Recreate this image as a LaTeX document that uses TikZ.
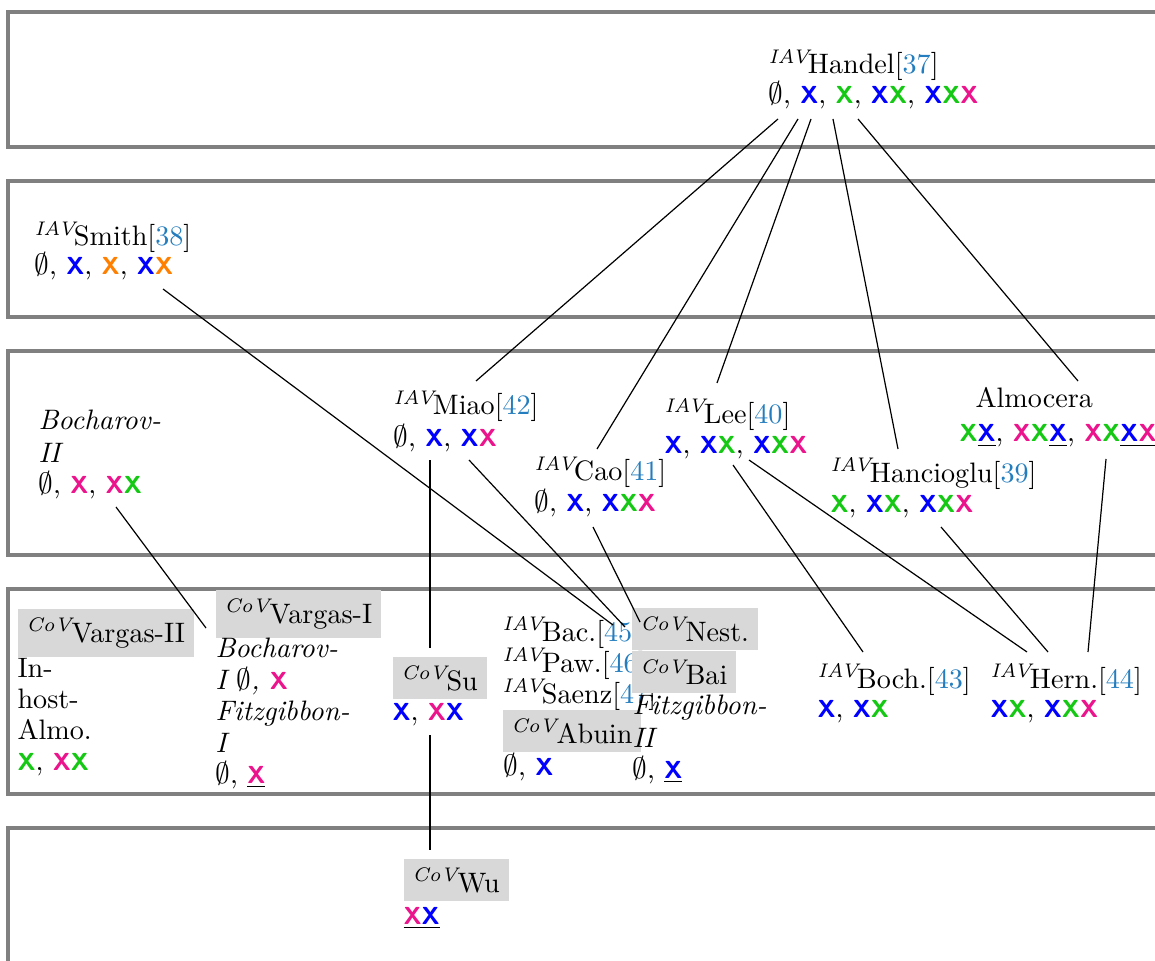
\documentclass[tikz,border=0pt]{standalone}
\usepackage{fontspec}
\usetikzlibrary{calc}

\definecolor{xblue}{RGB}{0,0,255}
\definecolor{xgreen}{RGB}{20,200,20}
\definecolor{xpink}{RGB}{235,20,140}
\definecolor{xorange}{RGB}{255,128,0}
\definecolor{citeblue}{RGB}{35,125,190}
\definecolor{tierline}{RGB}{128,128,128}
\definecolor{boxfill}{RGB}{216,216,216}

% coloured segment marks
\newcommand\mk[1]{{\fontsize{9.2}{10}\selectfont\sffamily\bfseries\upshape\textcolor{#1}{X}}}
\newcommand\xB{\mk{xblue}}
\newcommand\xG{\mk{xgreen}}
\newcommand\xP{\mk{xpink}}
\newcommand\xO{\mk{xorange}}
\newcommand\es{$\emptyset$}
\newcommand\iav{\textsuperscript{\itshape IAV}\kern-1pt}
\newcommand\cov{\textsuperscript{\itshape CoV}\kern-0.6pt}
\newcommand\cit[1]{[\textcolor{citeblue}{#1}]}

\tikzset{
  every node/.style={font=\fontsize{10.5}{12.5}\selectfont},
  tier/.style={draw=tierline, line width=1.2pt},
  lbl/.style={anchor=base west, inner sep=0pt},
  covbox/.style={anchor=base west, fill=boxfill, inner sep=3.3pt},
  link/.style={draw=black, line width=0.45pt},
}

\begin{document}
\begin{tikzpicture}[x=0.3731pt, y=-0.3731pt]
\useasboundingbox (0,0) rectangle (1155,961);

% tiers (open to the right)
\draw[tier] (1180,12) -- (8,12) -- (8,147) -- (1180,147);
\draw[tier] (1180,181) -- (8,181) -- (8,317) -- (1180,317);
\draw[tier] (1180,351) -- (8,351) -- (8,555) -- (1180,555);
\draw[tier] (1180,589) -- (8,589) -- (8,794) -- (1180,794);
\draw[tier] (1180,828) -- (8,828) -- (8,990);

% tier 1
\node[lbl] (handel)  at (768,74)  {\iav Handel\cit{37}};
\node[lbl] (handelv) at (768,104) {\es, \xB, \xG, \xB\xG, \xB\xG\xP};

% tier 2
\node[lbl] (smith)  at (34,246) {\iav Smith\cit{38}};
\node[lbl] (smithv) at (34,275) {\es, \xB, \xO, \xB\xO};

% tier 3
\node[lbl] (bochii)  at (38,429) {\itshape Bocharov-};
\node[lbl] (bochiib) at (38,462) {\itshape II};
\node[lbl] (bochiiv) at (38,493) {\es, \xP, \xP\xG};

\node[lbl] (miao)  at (393,415) {\iav Miao\cit{42}};
\node[lbl] (miaov) at (393,446) {\es, \xB, \xB\xP};

\node[lbl] (cao)  at (534,481) {\iav Cao\cit{41}};
\node[lbl] (caov) at (534,511) {\es, \xB, \xB\xG\xP};

\node[lbl] (lee)  at (664,423) {\iav Lee\cit{40}};
\node[lbl] (leev) at (664,453) {\xB, \xB\xG, \xB\xG\xP};

\node[lbl] (hanc)  at (830,482) {\iav Hancioglu\cit{39}};
\node[lbl] (hancv) at (830,512) {\xG, \xB\xG, \xB\xG\xP};

\node[lbl] (almo)  at (975,408) {Almocera};
\node[lbl] (almov) at (959,442) {\xG\underline{\xB}, \xP\xG\underline{\xB}, \xP\xG\underline{\xB\xP}};

% tier 4
\node[covbox] (vargasii) at (17,642) {\cov Vargas-II};
\node[lbl] (vargasiia) at (17,677) {In-};
\node[lbl] (vargasiib) at (17,708) {host-};
\node[lbl] (vargasiic) at (17,739) {Almo.};
\node[lbl] (vargasiiv) at (17,770) {\xG, \xP\xG};

\node[covbox] (vargasi) at (215,623) {\cov Vargas-I};
\node[lbl] (bochi)   at (215,657) {\itshape Bocharov-};
\node[lbl] (bochiv)  at (215,689) {\itshape I \es, \xP};
\node[lbl] (fitzi)   at (215,720) {\itshape Fitzgibbon-};
\node[lbl] (fitzib)  at (215,752) {\itshape I};
\node[lbl] (fitziv)  at (215,783) {\es, \underline{\xP}};

\node[covbox] (su) at (392,690) {\cov Su};
\node[lbl] (suv) at (392,720) {\xB, \xP\xB};

\node[lbl] (bac)   at (502,641) {\iav Bac.\cit{45}};
\node[lbl] (paw)   at (502,672) {\iav Paw.\cit{46}};
\node[lbl] (saenz) at (502,703) {\iav Saenz\cit{47}};
\node[covbox] (abuin) at (502,743) {\cov Abuin};
\node[lbl] (abuinv) at (503,775) {\es, \xB};

\node[covbox] (nest) at (631,641) {\cov Nest.};
\node[covbox] (bai)  at (631,684) {\cov Bai};
\node[lbl] (fitzii)  at (632,714) {\itshape Fitzgibbon-};
\node[lbl] (fitziib) at (632,747) {\itshape II};
\node[lbl] (fitziiv) at (632,778) {\es, \underline{\xB}};

\node[lbl] (boch)  at (817,688) {\iav Boch.\cit{43}};
\node[lbl] (bochv) at (817,717) {\xB, \xB\xG};

\node[lbl] (hern)  at (990,688) {\iav Hern.\cit{44}};
\node[lbl] (hernv) at (990,717) {\xB\xG, \xB\xG\xP};

% tier 5
\node[covbox] (wu) at (403,892) {\cov Wu};
\node[lbl] (wuv) at (403,924) {\underline{\xP\xB}};

% connectors
\draw[link] ($(handelv.base west)+(10,15)$) -- ($(miao.base west)+(83,-34)$);
\draw[link] ($(handelv.base west)+(30,15)$) -- ($(cao.base west)+(63,-32)$);
\draw[link] ($(handelv.base west)+(43,15)$) -- ($(lee.base west)+(53,-40)$);
\draw[link] ($(handelv.base west)+(65,15)$) -- ($(hanc.base west)+(68,-33)$);
\draw[link] ($(handelv.base west)+(90,15)$) -- ($(almo.base west)+(103,-27)$);
\draw[link] ($(smithv.base west)+(129,14)$) -- ($(bac.base west)+(111,-16)$);
\draw[link] ($(miaov.base west)+(76,14)$) -- ($(bac.base west)+(123,-14)$);
\draw[link] ($(miaov.base west)+(37,14)$) -- ($(su.base west)+(38,-42)$);
\draw[link] ($(suv.base west)+(38,15)$) -- ($(wu.base west)+(27,-42)$);
\draw[link] ($(caov.base west)+(59,16)$) -- ($(nest.base west)+(9,-19)$);
\draw[link] ($(bochiiv.base west)+(78,14)$) -- ($(vargasi.base west)+(-9,5)$);
\draw[link] ($(leev.base west)+(69,12)$) -- ($(boch.base west)+(46,-36)$);
\draw[link] ($(leev.base west)+(85,7)$) -- ($(hern.base west)+(37,-36)$);
\draw[link] ($(hancv.base west)+(111,15)$) -- ($(hern.base west)+(58,-36)$);
\draw[link] ($(almov.base west)+(147,17)$) -- ($(hern.base west)+(98,-36)$);
\end{tikzpicture}
\end{document}
